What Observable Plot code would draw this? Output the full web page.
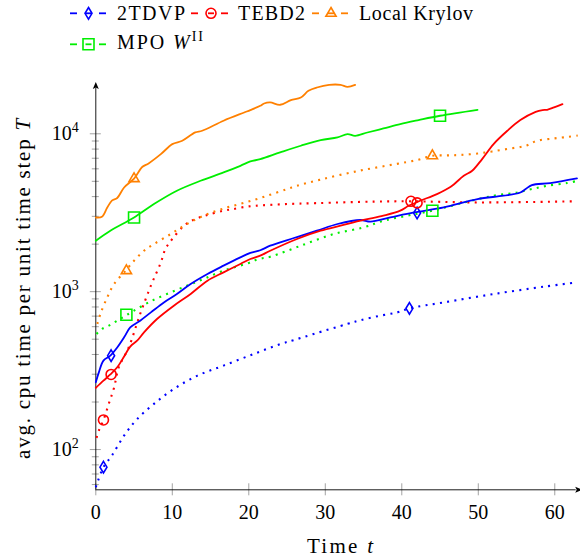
<!DOCTYPE html>
<html><head><meta charset="utf-8">
<script src="https://cdn.jsdelivr.net/npm/d3@7"></script>
<script src="https://cdn.jsdelivr.net/npm/@observablehq/plot@0.6"></script>
<style>
body{margin:0;background:#fff;}
#wrap{width:580px;height:557px;position:relative;overflow:hidden;font-family:"Liberation Serif",serif;}
svg{display:block}
</style></head><body><div id="wrap"><div id="legend"></div><div id="chart"></div></div>
<script>
// ---- data: [time t, avg cpu time] ----
const tdvpSolid = [[0,267],[0.4,308],[1.0,366],[1.9,393],[2.8,443],[3.7,514],[4.5,594],[5.8,655],[7.2,739],[8.9,855],[10.6,966],[12.4,1118],[14.6,1294],[16.7,1461],[18.9,1649],[20.2,1760],[21.5,1830],[22.8,1955],[25.9,2188],[28.9,2433],[31.6,2683],[34.6,2845],[35.9,2775],[38.5,2953],[41.6,3178],[45.5,3420],[49.9,3860],[53.3,4053],[55.5,4250],[56.2,4467],[57.0,4733],[59.4,4874],[62.9,5214]];
const tdvpDotted = [[0,57.7],[0.3,63.7],[1.0,77.3],[2.1,91.6],[3.7,122.6],[5.4,156],[7.6,194.6],[10.2,242],[13.3,294],[16.7,340],[20.7,404],[24.2,467],[25.9,494],[28.5,540],[32.9,625],[34.6,660],[37.2,705],[39.4,739],[41.0,784],[45.5,855],[52.0,966],[58.6,1076],[62.3,1136]];
const tebdSolid = [[0,246],[1,273],[1.9,299],[2.8,332],[3.7,388],[4.5,449],[5.4,489],[6.3,552],[8.0,671],[10.2,815],[12.4,967],[14.6,1174],[16.7,1325],[18.9,1497],[20.2,1610],[21.5,1690],[22.8,1817],[26.3,2157],[29.4,2433],[32.0,2617],[35.0,2845],[37.6,3030],[39.8,3258],[40.9,3502],[42.4,3764],[44.6,4152],[46.4,4620],[48.1,5421],[49.2,5830],[50.5,6917],[52.0,8610],[53.8,10450],[55.5,12210],[57.5,13770],[58.4,14130],[59.0,14190],[59.9,14700],[61.0,15420]];
const tebdDotted = [[0.1,118.6],[0.4,132],[1.0,154],[1.7,195],[2.4,248],[3.0,332],[4.3,443],[5.8,722],[7.2,1091],[8.5,1531],[9.1,1862],[10.0,2157],[11.3,2553],[12.0,2720],[13.0,2885],[14.3,3030],[16.7,3258],[18.0,3337],[19.6,3450],[20.9,3502],[24.5,3580],[28.9,3638],[36.4,3720],[41.0,3735],[49.9,3675],[62.7,3735]];
const krylovSolid = [[0,2950],[0.8,2980],[1.5,3410],[2.1,3770],[2.8,3920],[3.7,4570],[5.0,5200],[6.1,6180],[6.9,6490],[8.5,7430],[10.0,8600],[11.3,9030],[13.0,10200],[13.9,10450],[16.7,12100],[19.4,13640],[20.2,14130],[21.5,15040],[22.0,15560],[22.8,15790],[24.1,15270],[25.5,16340],[26.8,16980],[27.8,18710],[28.9,19640],[30.5,20420],[32.0,20420],[32.9,19820],[33.9,20420]];
const krylovDotted = [[0.2,625],[0.6,722],[1.5,921],[2.4,1119],[3.9,1359],[5.0,1571],[6.3,1817],[7.6,2003],[9.8,2318],[11.9,2680],[14.6,3100],[17.2,3420],[19.8,3700],[22.4,4050],[25.0,4467],[26.3,4687],[29.6,5160],[34.4,5830],[39.2,6430],[42.0,6820],[44.0,7260],[46.0,7300],[47.7,7350],[49.9,7500],[51.8,7730],[54.2,8070],[56.2,8400],[57.7,9030],[59.9,9340],[61.8,9570],[63.0,9750]];
const mpoSolid = [[0,2100],[1.9,2430],[5.0,2950],[7.6,3590],[10.6,4360],[13.7,5040],[16.7,5690],[18.9,6270],[20.2,6680],[21.5,6910],[24.1,7620],[26.8,8400],[29.4,9120],[31.6,9480],[32.9,9960],[33.9,9710],[35.5,10190],[37.6,10810],[39.8,11520],[42.2,12210],[45.0,13010],[49.9,14190]];
const mpoDotted = [[0.1,540],[0.8,580],[1.7,609],[2.8,655],[3.9,705],[5.0,758],[6.9,855],[9.3,967],[11.9,1091],[14.1,1203],[16.7,1359],[19.8,1510],[21.3,1610],[22.8,1664],[26.8,1955],[31.1,2318],[35.0,2553],[37.6,2812],[40.7,3030],[44.0,3258],[47.7,3620],[52.0,4053],[55.1,4250],[57.0,4467],[59.0,4687],[61.6,4874],[62.9,5030]];
// marker positions
const tdvpMarks = [[2,393],[42,3150],[1,77.3],[41,784]];
const tebdMarks = [[2,299],[42,3650],[1,154],[41.2,3735]];
const krylovMarks = [[5,5200],[4,1360],[44,7260]];
const mpoMarks = [[5,2950],[45,13010],[4,714],[44,3258]];

const seriesNames = ["2TDVP","TEBD2","Local Krylov","MPO W^II"];
const seriesColors = ["#0000ff","#ff0000","#ff8000","#00ee00"];
const xTicks = [0,10,20,30,40,50,60];
const yMajorTicks = [100,1000,10000];
const yMinorTicks = [60,70,80,90,200,300,400,500,600,700,800,900,2000,3000,4000,5000,6000,7000,8000,9000];
const xDomain = [0,62.8];
const yDomain = [55.6,19500];
const xLabel = "Time t";
const yLabel = "avg. cpu time per unit time step T";

// ---- symbols (pgfplots-like) ----
const symDiamond = {draw(c){c.moveTo(0,-5.8);c.lineTo(3.5,0);c.lineTo(0,5.8);c.lineTo(-3.5,0);c.closePath();}};
const symCircle = {draw(c){c.moveTo(5,0);c.arc(0,0,5,0,2*Math.PI);c.closePath();}};
const symTriangle = {draw(c){c.moveTo(0,-5.8);c.lineTo(5.1,3);c.lineTo(-5.1,3);c.closePath();}};
const symSquare = {draw(c){c.moveTo(-5.5,-5.5);c.lineTo(5.5,-5.5);c.lineTo(5.5,5.5);c.lineTo(-5.5,5.5);c.closePath();}};
const arrowUp = {draw(c){c.moveTo(0,-6);c.lineTo(3,1);c.lineTo(0,-0.5);c.lineTo(-3,1);c.closePath();}};
const arrowRight = {draw(c){c.moveTo(6,0);c.lineTo(-1,3);c.lineTo(0.5,0);c.lineTo(-1,-3);c.closePath();}};
const symbols = [symDiamond, symCircle, symTriangle, symSquare];

const series = [
  {i:0, solid: tdvpSolid, dotted: tdvpDotted, marks: tdvpMarks},
  {i:1, solid: tebdSolid, dotted: tebdDotted, marks: tebdMarks},
  {i:2, solid: krylovSolid, dotted: krylovDotted, marks: krylovMarks},
  {i:3, solid: mpoSolid, dotted: mpoDotted, marks: mpoMarks}
];

const marks = [];
const gray = "#8a8a8a";
marks.push(Plot.axisX({ticks: xTicks, tickSize: 12, dy: -6, tickFormat: () => "", stroke: gray, strokeWidth: 0.8, label: null}));
marks.push(Plot.axisX({ticks: xTicks, tickSize: 0, tickPadding: 15, tickFormat: d => String(d), fill: "black", label: null}));
marks.push(Plot.axisY({ticks: yMinorTicks, tickSize: 7, dx: 3.5, tickFormat: () => "", stroke: gray, strokeWidth: 0.8, label: null}));
marks.push(Plot.axisY({ticks: yMajorTicks, tickSize: 11, dx: 5.5, tickFormat: () => "", stroke: gray, strokeWidth: 0.8, label: null}));
marks.push(Plot.axisY({ticks: yMajorTicks, tickSize: 0, tickPadding: 17, tickFormat: d => "10^" + Math.round(Math.log10(d)), fill: "black", label: null}));
marks.push(Plot.ruleX([xDomain[0]], {stroke: "black", strokeWidth: 0.9}));
marks.push(Plot.ruleY([yDomain[0]], {stroke: "black", strokeWidth: 0.9}));
marks.push(Plot.dot([{x: xDomain[0], y: yDomain[1]}], {x: "x", y: "y", symbol: arrowUp, fill: "black", stroke: null}));
marks.push(Plot.dot([{x: xDomain[1], y: yDomain[0]}], {x: "x", y: "y", symbol: arrowRight, fill: "black", stroke: null}));

for (const s of series) {
  const col = seriesColors[s.i];
  marks.push(Plot.line(s.dotted, {x: d => d[0], y: d => d[1], stroke: col, strokeWidth: 2.1, strokeDasharray: "2,5.3", strokeLinecap: "butt", curve: "catmull-rom"}));
}
for (const s of series) {
  const col = seriesColors[s.i];
  marks.push(Plot.line(s.solid, {x: d => d[0], y: d => d[1], stroke: col, strokeWidth: 1.8, curve: "catmull-rom"}));
}
for (const s of series) {
  const col = seriesColors[s.i];
  marks.push(Plot.dot(s.marks, {x: d => d[0], y: d => d[1], symbol: symbols[s.i], stroke: col, strokeWidth: 1.6, fill: "none"}));
}
marks.push(Plot.text([yLabel], {text: d => d, frameAnchor: "left", textAnchor: "middle", lineAnchor: "middle", rotate: -90, dx: -73, fill: "black", fontSize: 21}));
marks.push(Plot.text([xLabel], {text: d => d, frameAnchor: "bottom", textAnchor: "middle", lineAnchor: "middle", dy: 56, dx: 4, fill: "black", fontSize: 21}));

const chart = Plot.plot({
  width: 580, height: 487,
  marginLeft: 95.3, marginRight: 4.3, marginTop: 17.5, marginBottom: 67.7,
  x: {domain: xDomain},
  y: {type: "log", domain: yDomain},
  style: {fontFamily: "'Liberation Serif', serif", fontSize: "20px", background: "white", color: "black", overflow: "visible"},
  marks
});
document.getElementById("chart").appendChild(chart);

// superscripts / italics in text
function italicLast(el) {
  const t = el.textContent;
  el.textContent = t.slice(0, -1);
  d3.select(el).append("tspan").attr("font-style", "italic").text(t.slice(-1));
}
d3.select(chart).selectAll("text").each(function() {
  const t = this.textContent;
  if (/^10\^\d$/.test(t)) {
    const parts = t.split("^");
    this.textContent = parts[0];
    d3.select(this).append("tspan").attr("dy", -8).attr("font-size", 14).text(parts[1]);
  } else if (t === yLabel) {
    italicLast(this);
    this.setAttribute("textLength", 340); this.setAttribute("lengthAdjust", "spacing");
  } else if (t === xLabel) {
    italicLast(this);
    this.setAttribute("textLength", 66); this.setAttribute("lengthAdjust", "spacing");
  }
});

// ---- legend ----
const legendLayout = [
  {i:0, x0:70, x1:106, mx:88.5, tx:117, cy:13.3, by:20, w:68},
  {i:1, x0:191, x1:228, mx:211, tx:238, cy:13.3, by:20, w:67},
  {i:2, x0:312, x1:348, mx:331, tx:359, cy:13.3, by:20, w:114},
  {i:3, x0:70, x1:106, mx:88.5, tx:117, cy:44.3, by:48.5, w:86}
];
const lg = d3.select("#legend").append("svg").attr("width", 580).attr("height", 70)
  .style("font-family", "'Liberation Serif', serif").style("font-size", "20px");
for (const L of legendLayout) {
  const col = seriesColors[L.i];
  lg.append("line").attr("x1", L.x0).attr("x2", L.x0 + 7).attr("y1", L.cy).attr("y2", L.cy).attr("stroke", col).attr("stroke-width", 1.8);
  lg.append("line").attr("x1", L.x1 - 7).attr("x2", L.x1).attr("y1", L.cy).attr("y2", L.cy).attr("stroke", col).attr("stroke-width", 1.8);
  lg.append("line").attr("x1", L.mx - 3).attr("x2", L.mx + 3).attr("y1", L.cy).attr("y2", L.cy).attr("stroke", col).attr("stroke-width", 1.8);
  const p = d3.path(); symbols[L.i].draw(p, 0);
  lg.append("path").attr("d", p.toString()).attr("transform", `translate(${L.mx},${L.cy})`)
    .attr("fill", "none").attr("stroke", col).attr("stroke-width", 1.6);
  const txt = lg.append("text").attr("x", L.tx).attr("y", L.by).attr("fill", "black")
    .attr("textLength", L.w).attr("lengthAdjust", "spacing");
  const name = seriesNames[L.i];
  if (name.includes("^")) {
    const [a, b] = name.split("^");
    const base = a.split(" ");
    txt.append("tspan").text(base[0] + " ");
    txt.append("tspan").attr("font-style", "italic").text(base[1]);
    txt.append("tspan").attr("dy", -8).attr("font-size", 14).text(b);
  } else {
    txt.text(name);
  }
}
</script></body></html>
